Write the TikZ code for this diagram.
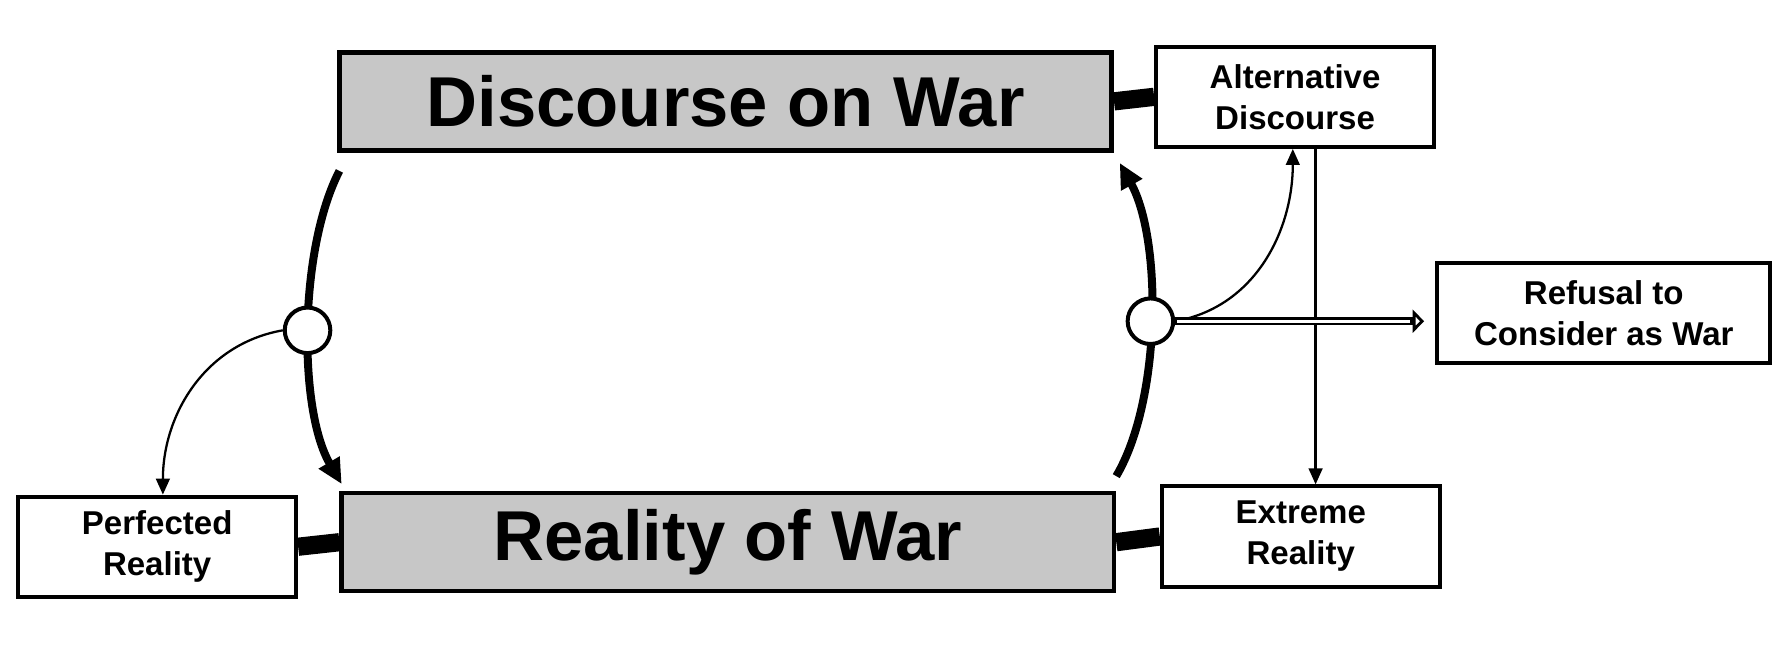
\documentclass[tikz,border=0pt]{standalone}
\usepackage{fontspec}
\setmainfont{Liberation Sans}
\usetikzlibrary{arrows.meta,patterns}
\begin{document}
\begin{tikzpicture}[x=1pt,y=-1pt,
  big/.style={draw,line width=4pt,fill=black!22,minimum width=678pt,minimum height=86pt,inner sep=0pt,font=\bfseries\fontsize{62}{66}\selectfont},
  small/.style={draw,line width=3.5pt,fill=white,minimum width=244pt,minimum height=88pt,inner sep=0pt,align=center,font=\bfseries\fontsize{29}{36}\selectfont},
  bar/.style={line width=16pt},
  thick arc/.style={line width=7pt},
  thin arc/.style={line width=2pt,-{Triangle[length=14pt,width=12pt]}},
  hub/.style={circle,draw,line width=3.5pt,fill=white,minimum size=40pt,inner sep=0pt}]
\useasboundingbox (0,0) rectangle (1568,582);
\node[big] (D) at (637,89) {Discourse on War};
\node[big] (R) at (639,476) {Reality of War};
\node[small] (A) at (1137,85) {Alternative\\Discourse};
\node[small] (E) at (1142,471) {Extreme\\Reality};
\node[small] (P) at (138,480) {Perfected\\Reality};
\node[small,minimum width=292pt] (F) at (1408,275) {Refusal to\\Consider as War};
\draw[bar] (D.east) -- (A.west);
\draw[bar] (R.east) -- (E.west);
\draw[bar] (P.east) -- (R.west);
\coordinate (l1) at (298,150);
\coordinate (l2) at (300,425);
\coordinate (r1) at (980,418);
\coordinate (r2) at (983,143);
\draw[thick arc,-{Triangle[length=22pt,width=20pt]}] (l1) .. controls (262,220) and (262,360) .. (l2);
\draw[thick arc,-{Triangle[length=22pt,width=20pt]}] (r1) .. controls (1020,350) and (1020,210) .. (r2);
\node[hub] (L) at (270,290) {};
\node[hub] (H) at (1010,282) {};
\draw[thin arc] (L.west) to[out=190,in=90] ([xshift=5pt]P.north);
\draw[thin arc] (H.east) to[out=10,in=-90] ([xshift=-2pt]A.south);
\draw[thin arc] ([xshift=18pt]A.south) -- ([xshift=13pt]E.north);
\coordinate (fa) at (H.east -| F.west);
\draw[line width=7pt,-{Triangle[open,length=10pt,width=20pt]}] (H.east) -- ([xshift=-10pt]fa);
\draw[line width=3pt,white,shorten >=12pt,shorten <=2pt] (H.east) -- ([xshift=-10pt]fa);
\end{tikzpicture}
\end{document}
